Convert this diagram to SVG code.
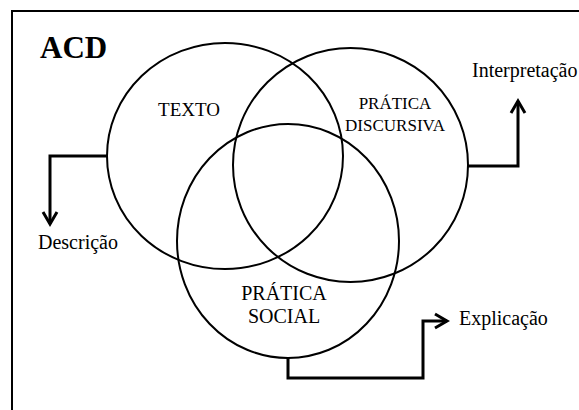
<svg xmlns="http://www.w3.org/2000/svg" width="579" height="410" viewBox="0 0 579 410">
<style>
.c{fill:none;stroke:#000;stroke-width:2}
.k{fill:none;stroke:#000;stroke-width:3;stroke-linejoin:miter}
</style>
<defs>
<marker id="ah" markerUnits="userSpaceOnUse" markerWidth="20" markerHeight="20" refX="13" refY="8" orient="auto" viewBox="0 0 20 16">
<polyline points="1,1 13,8 1,15" fill="none" stroke="#000" stroke-width="3"/>
</marker>
</defs>
<rect x="12" y="11" width="620" height="440" fill="#fff" stroke="#000" stroke-width="2"/>
<g font-family="Liberation Serif, DejaVu Serif, serif" fill="#000">
<text x="40" y="58" font-size="31" font-weight="bold">ACD</text>
<g id="texto">
<ellipse class="c" cx="225" cy="156" rx="118" ry="113"/>
<text x="189" y="116" font-size="19" text-anchor="middle">TEXTO</text>
</g>
<g id="pratica-discursiva">
<ellipse class="c" cx="350.5" cy="165" rx="117.5" ry="117"/>
<text x="395" y="109" font-size="17" text-anchor="middle">PRÁTICA</text>
<text x="395" y="131" font-size="17" text-anchor="middle">DISCURSIVA</text>
</g>
<g id="pratica-social">
<ellipse class="c" cx="288" cy="241" rx="111" ry="117"/>
<text x="284" y="300" font-size="20" text-anchor="middle">PRÁTICA</text>
<text x="284" y="323" font-size="20" text-anchor="middle">SOCIAL</text>
</g>
<g id="connectors">
<path class="k" d="M107,156 H50 V224" marker-end="url(#ah)"/>
<path class="k" d="M468,166 H518 V101" marker-end="url(#ah)"/>
<path class="k" d="M288,358 V378 H423 V321 H447" marker-end="url(#ah)"/>
</g>
<g id="descricao"><text x="38" y="249" font-size="20">Descrição</text></g>
<g id="interpretacao"><text x="472" y="77" font-size="20">Interpretação</text></g>
<g id="explicacao"><text x="459" y="325" font-size="20">Explicação</text></g>
</g>
</svg>
